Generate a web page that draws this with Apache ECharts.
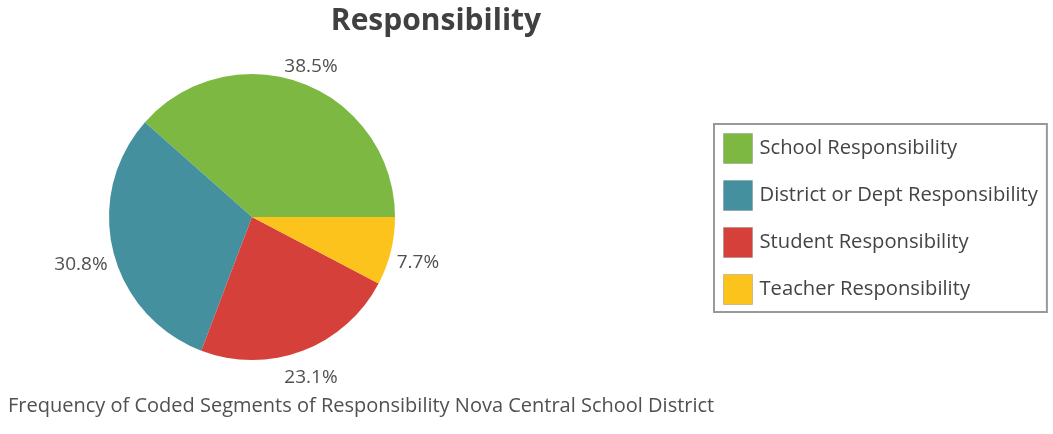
<!DOCTYPE html>
<html>
<head>
<meta charset="utf-8">
<script src="https://cdn.jsdelivr.net/npm/echarts@6/dist/echarts.min.js"></script>
<style>
  html, body { margin: 0; padding: 0; background: #fff; }
  #main { width: 1053px; height: 434px; }
</style>
</head>
<body>
<div id="main"></div>
<script>
const categories = ['School Responsibility', 'District or Dept Responsibility', 'Student Responsibility', 'Teacher Responsibility'];
const counts = [5, 4, 3, 1];
const colors = ['#7CB842', '#45909E', '#D5403A', '#FBC31C'];

const center = [252, 217];
const radius = 143;
const total = counts.reduce((a, b) => a + b, 0);

// mid angle of every slice, counter-clockwise from 3 o'clock
const midAngles = [];
let acc = 0;
counts.forEach(v => {
  midAngles.push((acc + v / 2) / total * Math.PI * 2);
  acc += v;
});

const myChart = echarts.init(document.getElementById('main'));
myChart.setOption({
  animation: false,
  title: [
    {
      text: 'Responsibility',
      left: 431, top: 1,
      textAlign: 'center',
      textStyle: { fontFamily: 'Open Sans', fontSize: 30, fontWeight: 'bold', color: '#404040' }
    },
    {
      text: 'Frequency of Coded Segments of Responsibility Nova Central School District',
      left: 3, top: 391,
      textStyle: { fontFamily: 'Open Sans', fontSize: 20, fontWeight: 'normal', color: '#505050' }
    }
  ],
  legend: {
    orient: 'vertical',
    left: 714, top: 124,
    padding: [9, 9, 7, 9],
    borderColor: '#999',
    borderWidth: 2,
    itemWidth: 29, itemHeight: 30, itemGap: 16,
    icon: 'rect',
    itemStyle: { borderColor: 'rgba(120,120,120,0.35)', borderWidth: 1 },
    textStyle: { fontFamily: 'Open Sans', fontSize: 20.2, color: '#444', padding: [0, 0, 0, 2] },
    data: categories
  },
  series: [{
    type: 'pie',
    center: center,
    radius: radius,
    startAngle: 0,
    clockwise: false,
    data: categories.map((c, i) => ({ name: c, value: counts[i], itemStyle: { color: colors[i] } })),
    label: {
      show: true,
      position: 'outside',
      formatter: p => p.percent.toFixed(1) + '%',
      fontFamily: 'Open Sans', fontSize: 19, color: '#505050'
    },
    labelLine: { show: false },
    labelLayout: params => {
      const a = midAngles[params.dataIndex];
      const w = params.labelRect.width, h = params.labelRect.height;
      const c = Math.cos(a), s = Math.sin(a);
      const d = radius + 5 + Math.abs(c) * w / 2 + Math.abs(s) * h / 2;
      return {
        x: center[0] + c * d,
        y: center[1] - s * d + 5,
        align: 'center',
        verticalAlign: 'middle'
      };
    }
  }]
});
</script>
</body>
</html>
